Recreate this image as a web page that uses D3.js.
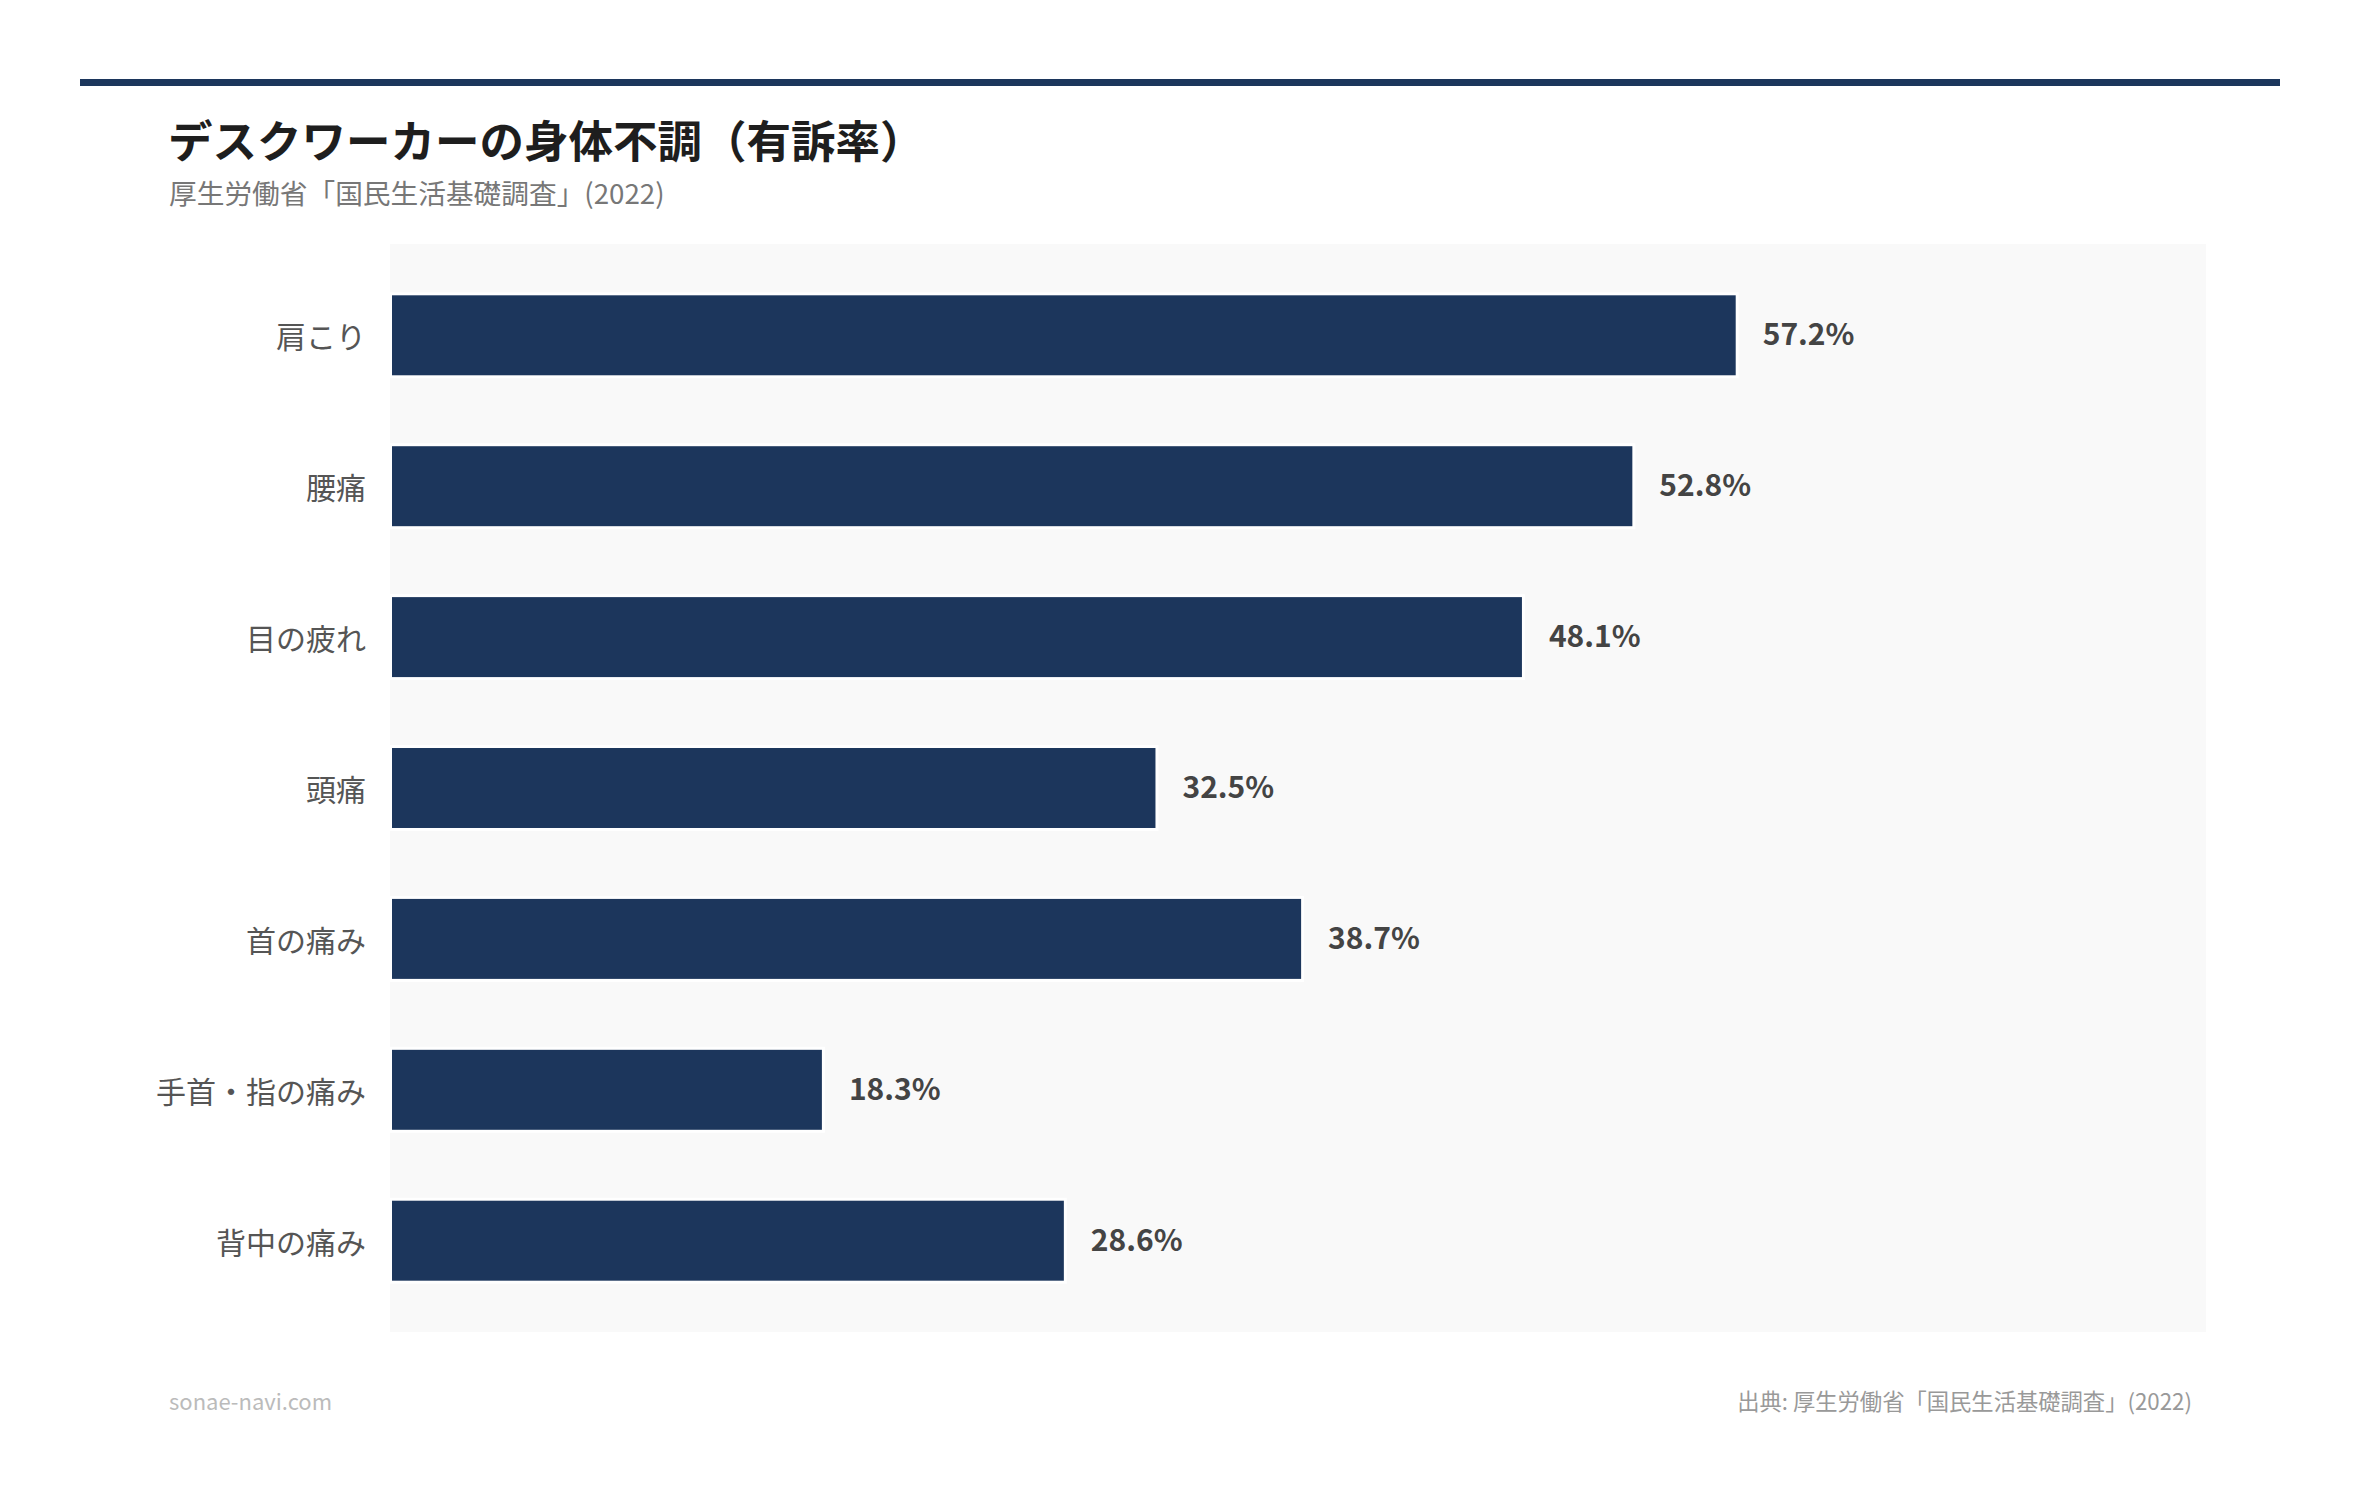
<!DOCTYPE html>
<html lang="ja">
<head>
<meta charset="utf-8">
<title>デスクワーカーの身体不調（有訴率）</title>
<script src="https://cdn.jsdelivr.net/npm/d3@7.9.0/dist/d3.min.js"></script>
<style>
  html, body { margin: 0; padding: 0; background: #fff; }
  svg { display: block; font-family: "Noto Sans CJK JP", "Noto Sans", sans-serif; }
</style>
</head>
<body>
<div id="chart"></div>
<script>
const categories = ['肩こり', '腰痛', '目の疲れ', '頭痛', '首の痛み', '手首・指の痛み', '背中の痛み'];
const values = [57.2, 52.8, 48.1, 32.5, 38.7, 18.3, 28.6];
const title = 'デスクワーカーの身体不調（有訴率）';
const subtitle = '厚生労働省「国民生活基礎調査」(2022)';
const siteName = 'sonae-navi.com';
const sourceNote = '出典: 厚生労働省「国民生活基礎調査」(2022)';

const rows = categories.map((name, i) => ({ name, value: values[i] }));

const width = 2360, height = 1494;
const plot = { left: 390, right: 2206, top: 244, bottom: 1332 };

const svg = d3.select('#chart').append('svg')
  .attr('width', width)
  .attr('height', height)
  .attr('viewBox', `0 0 ${width} ${height}`);

svg.append('rect').attr('width', width).attr('height', height).attr('fill', '#fff');

// header rule
svg.append('rect')
  .attr('x', 80).attr('y', 79)
  .attr('width', 2200).attr('height', 7)
  .attr('fill', '#1c365c');

svg.append('text')
  .attr('x', 168).attr('y', 138)
  .attr('dominant-baseline', 'central')
  .attr('font-size', 44.5).attr('font-weight', 700)
  .attr('fill', '#1e1e1e')
  .text(title);

svg.append('text')
  .attr('x', 169).attr('y', 192)
  .attr('dominant-baseline', 'central')
  .attr('font-size', 27.7)
  .attr('fill', '#777')
  .text(subtitle);

// plot background
svg.append('rect')
  .attr('x', plot.left).attr('y', plot.top)
  .attr('width', plot.right - plot.left)
  .attr('height', plot.bottom - plot.top)
  .attr('fill', '#f9f9f9');

const xScale = d3.scaleLinear()
  .domain([0, d3.max(values) * 1.35])
  .range([plot.left + 2, plot.right]);

const yScale = d3.scaleBand()
  .domain(categories)
  .range([plot.top, plot.bottom])
  .paddingInner(0.47)
  .paddingOuter(0.34);

const bars = svg.append('g').attr('class', 'bars');

bars.selectAll('rect')
  .data(rows)
  .join('rect')
  .attr('x', xScale(0))
  .attr('y', d => yScale(d.name))
  .attr('width', d => xScale(d.value) - xScale(0))
  .attr('height', yScale.bandwidth())
  .attr('fill', '#1c365c')
  .attr('stroke', '#fff')
  .attr('stroke-width', 6)
  .attr('paint-order', 'stroke');

// category labels
svg.append('g').attr('class', 'labels')
  .selectAll('text')
  .data(rows)
  .join('text')
  .attr('x', 366)
  .attr('y', d => yScale(d.name) + yScale.bandwidth() / 2)
  .attr('text-anchor', 'end')
  .attr('dominant-baseline', 'central')
  .attr('font-size', 30)
  .attr('fill', '#555')
  .text(d => d.name);

// value labels
svg.append('g').attr('class', 'values')
  .selectAll('text')
  .data(rows)
  .join('text')
  .attr('x', d => xScale(d.value) + 27)
  .attr('y', d => yScale(d.name) + yScale.bandwidth() / 2 - 3)
  .attr('dominant-baseline', 'central')
  .attr('font-size', 30)
  .attr('font-weight', 700)
  .attr('fill', '#444')
  .text(d => `${d.value.toFixed(1)}%`);

// footer
svg.append('text')
  .attr('x', 169).attr('y', 1400)
  .attr('dominant-baseline', 'central')
  .attr('font-size', 22)
  .attr('fill', '#bbb')
  .text(siteName);

svg.append('text')
  .attr('x', 2192).attr('y', 1400)
  .attr('text-anchor', 'end')
  .attr('dominant-baseline', 'central')
  .attr('font-size', 22.3)
  .attr('fill', '#999')
  .text(sourceNote);
</script>
</body>
</html>
